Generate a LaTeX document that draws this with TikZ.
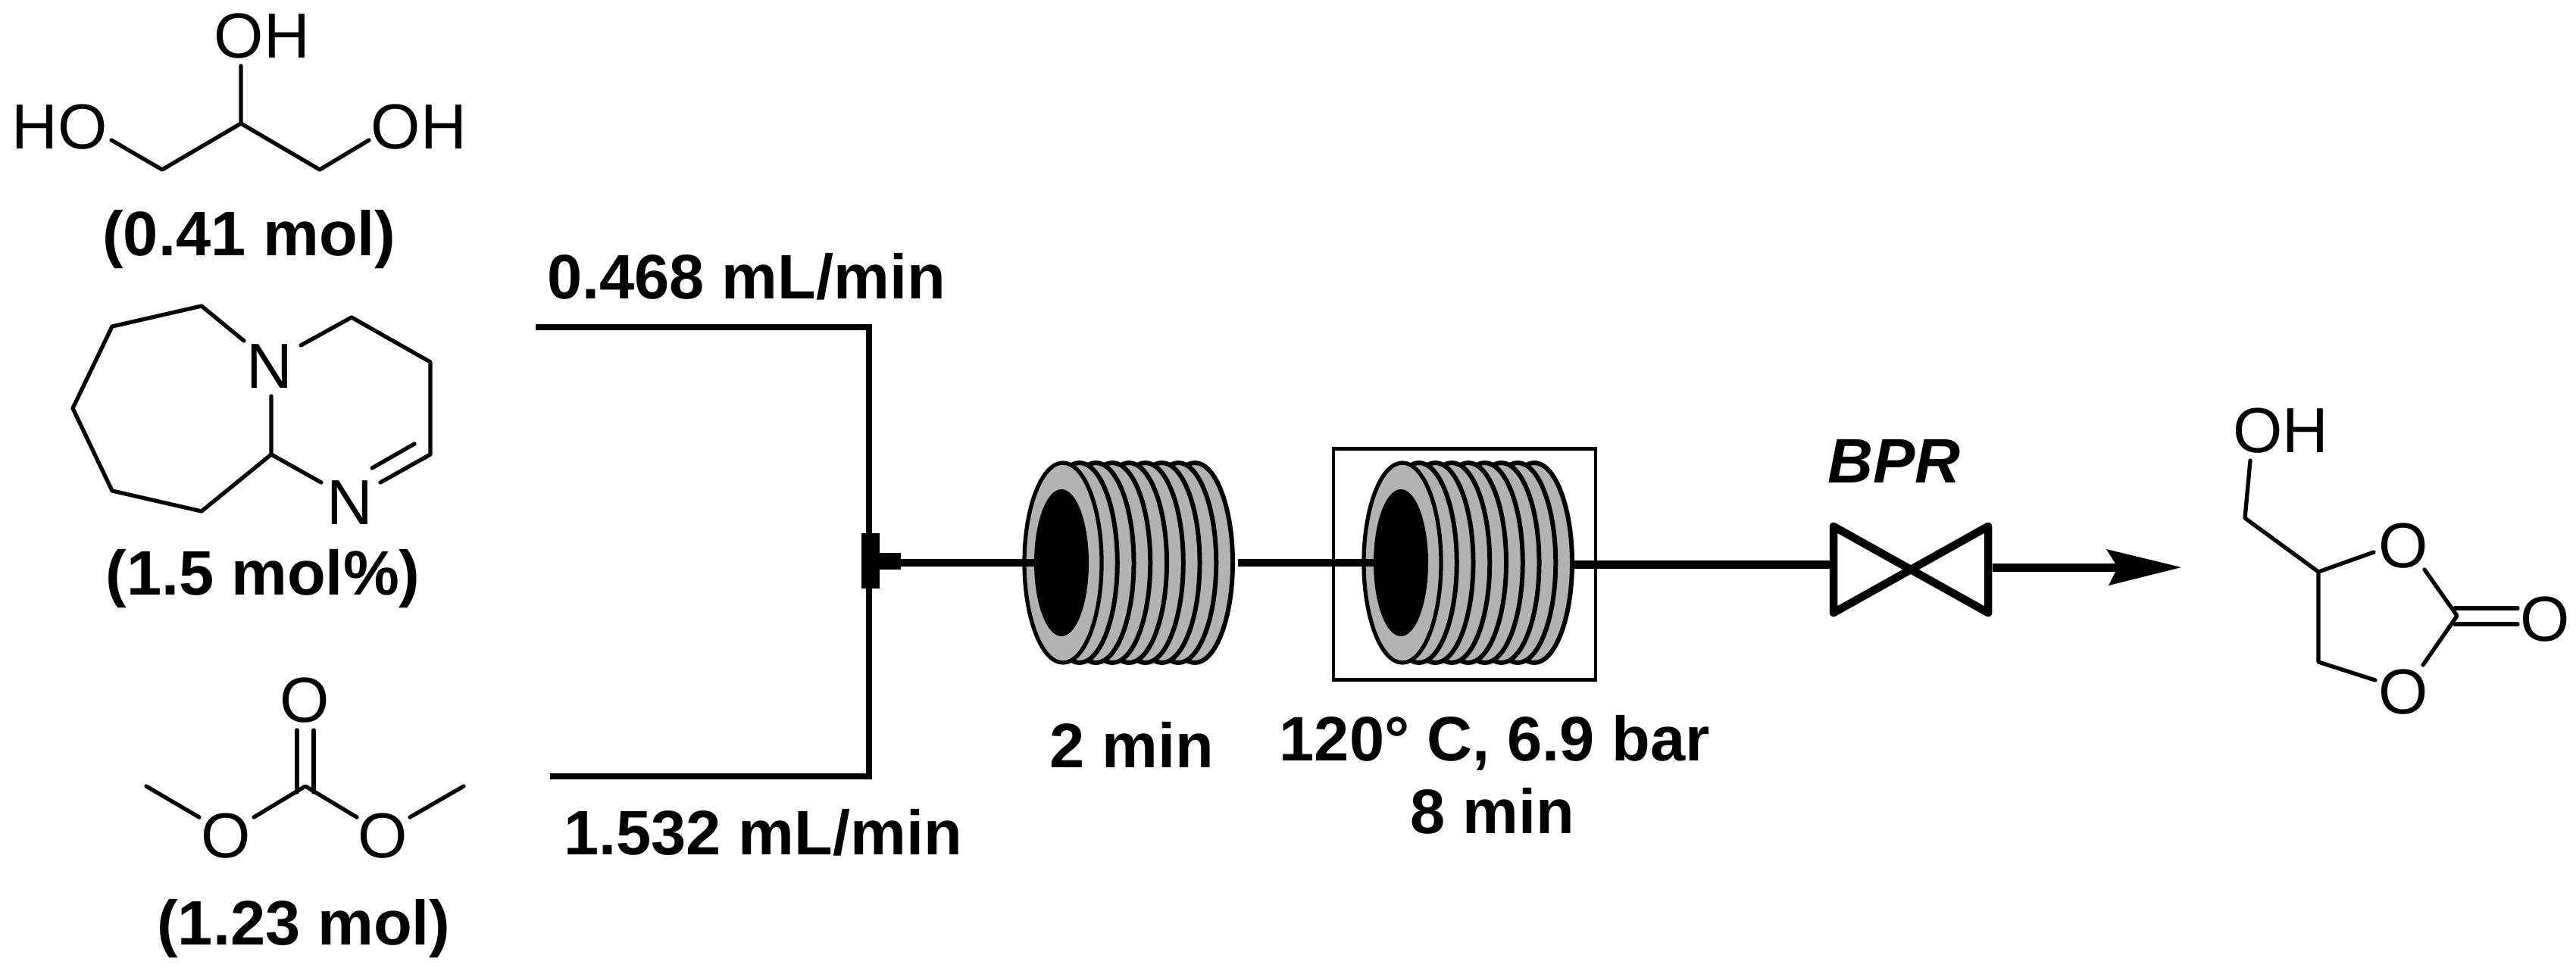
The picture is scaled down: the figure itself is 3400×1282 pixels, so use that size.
\documentclass[tikz,border=0pt]{standalone}
\usepackage{fontspec}
\setmainfont{Liberation Sans}
\definecolor{coilgray}{HTML}{B2B2B2}
\tikzset{
  atom/.style={inner sep=0pt,font=\fontsize{23.9}{26}\selectfont,text height=17.1pt,text depth=0pt},
  lab/.style={inner sep=0pt,font=\fontsize{23.6}{26}\selectfont\bfseries,text height=16.9pt,text depth=0pt},
  bond/.style={line width=1.5pt,line cap=round,line join=round},
  pipe/.style={line width=2.1pt,line cap=butt,line join=miter},
  flow/.style={line width=3.1pt,line cap=butt},
  coil/.pic={
    \foreach \i in {8,7,...,1}{
      \draw[line width=1.7pt,fill=coilgray] ({\i*21.75},0) ellipse [x radius=50,y radius=132];
    }
    \draw[line width=1.5pt,fill=coilgray] (0,0) ellipse [x radius=51,y radius=132];
    \fill[black] (-2,0) ellipse [x radius=36,y radius=97];
  }
}
\begin{document}
\begin{tikzpicture}[x=0.01cm,y=-0.01cm]
\useasboundingbox (0,0) rectangle (3400,1282);
% glycerol
\node[atom] (g1) at (346,46) {OH};
\node[atom] (g2) at (79,166) {HO};
\node[atom] (g3) at (553,166) {OH};
\node[lab] (gl) at (329,308) {(0.41 mol)};
\coordinate (ga) at (318,87);
\coordinate (gb) at (318,163);
\coordinate (gc) at (214,224);
\coordinate (gd) at (147,185);
\coordinate (ge) at (422,224);
\coordinate (gf) at (487,185);
\draw[bond] (ga) -- (gb) (gd) -- (gc) -- (gb) -- (ge) -- (gf);
% DBU
\node[atom] (n1) at (356,482) {N};
\node[atom] (n2) at (462,662) {N};
\node[lab] (dl) at (347,756) {(1.5 mol\%)};
\coordinate (d1) at (322,450);
\coordinate (d2) at (266,404);
\coordinate (d3) at (148,431);
\coordinate (d4) at (96,539);
\coordinate (d5) at (148,648);
\coordinate (d6) at (266,675);
\coordinate (d7) at (358,600);
\coordinate (d8) at (358,523);
\coordinate (d9) at (424,637);
\coordinate (d10) at (397,456);
\coordinate (d11) at (464,419);
\coordinate (d12) at (568,478);
\coordinate (d13) at (568,600);
\coordinate (d14) at (502,637);
\coordinate (d15) at (547,586);
\coordinate (d16) at (491,618);
\draw[bond] (d1) -- (d2) -- (d3) -- (d4) -- (d5) -- (d6) -- (d7) -- (d8);
\draw[bond] (d7) -- (d9);
\draw[bond] (d10) -- (d11) -- (d12) -- (d13) -- (d14);
\draw[bond] (d15) -- (d16);
% DMC
\node[atom] (m1) at (402,923) {O};
\node[atom] (m2) at (298,1102) {O};
\node[atom] (m3) at (505,1102) {O};
\node[lab] (ml) at (401,1218) {(1.23 mol)};
\coordinate (mc) at (403,1038);
\coordinate (mda) at (392,964);
\coordinate (mdb) at (392,1046);
\coordinate (mdc) at (414,964);
\coordinate (mdd) at (414,1046);
\coordinate (me) at (335,1079);
\coordinate (mf) at (263,1079);
\coordinate (mg) at (193,1038);
\coordinate (mh) at (471,1079);
\coordinate (mi) at (541,1079);
\coordinate (mj) at (612,1038);
\draw[bond] (mda) -- (mdb) (mdc) -- (mdd);
\draw[bond] (me) -- (mc) -- (mh);
\draw[bond] (mf) -- (mg) (mi) -- (mj);
% flow lines
\coordinate (ta) at (707,432);
\coordinate (tb) at (1147,432);
\coordinate (ba) at (726,1025);
\coordinate (bb) at (1147,1025);
\draw[pipe] (ta) -- (tb) -- (bb) -- (ba);
\node[lab] (fa) at (985,365) {0.468 mL/min};
\node[lab] (fb) at (1007,1099) {1.532 mL/min};
% T piece
\coordinate (t1) at (1149,704);
\coordinate (t2) at (1149,777);
\coordinate (t3) at (1161,741);
\coordinate (t4) at (1189,741);
\draw[line width=6.8pt] (t1) -- (t2);
\draw[line width=6pt] (t3) -- (t4);
% oven box
\node[draw,line width=1.3pt,minimum width=3.46cm,minimum height=3.05cm,inner sep=0pt] (oven) at (1933,745) {};
% coils
\pic at (1403,743) {coil};
\pic at (1851,743) {coil};
\coordinate (h1) at (1401,743);
\coordinate (h2) at (1849,743);
\coordinate (c1s) at (1189,743);
\coordinate (c1e) at (1634,743);
\draw[flow] (c1s) -- (h1);
\draw[flow] (c1e) -- (h2);
% labels under coils
\node[lab] (c1l) at (1494,984) {2 min};
\node[lab] (c2l) at (1973,975) {120° C, 6.9 bar};
\node[lab] (c3l) at (1970,1071) {8 min};
% BPR
\node[lab,font=\fontsize{23.6}{26}\selectfont\bfseries\itshape] (bl) at (2500,608) {BPR};
\coordinate (c2e) at (2078,745.5);
\coordinate (va) at (2416,745.5);
\coordinate (v1) at (2420,695);
\coordinate (v2) at (2420,809);
\coordinate (v3) at (2624,695);
\coordinate (v4) at (2624,809);
\draw[flow] (c2e) -- (va);
\draw[line width=3pt,line join=round] (v1) -- (v4) -- (v3) -- (v2) -- cycle;
\coordinate (vb) at (2630,749.5);
\coordinate (ar) at (2800,749.5);
\draw[flow] (vb) -- (ar);
\coordinate (at) at (2879,749);
\coordinate (au) at (2780,725);
\coordinate (an) at (2795,749);
\coordinate (ad) at (2783,773);
\fill (at) -- (au) -- (an) -- (ad) -- cycle;
% product
\node[atom] (p1) at (3010,567) {OH};
\node[atom] (p2) at (3172,719) {O};
\node[atom] (p3) at (3172,912) {O};
\node[atom] (p4) at (3359,816) {O};
\coordinate (q1) at (2970,608);
\coordinate (q2) at (2963,684);
\coordinate (q3) at (3060,755);
\coordinate (q4) at (3133,729);
\coordinate (q5) at (3060,874);
\coordinate (q6) at (3135,898);
\coordinate (q7) at (3200,752);
\coordinate (q8) at (3243,813);
\coordinate (q9) at (3198,878);
\coordinate (q10) at (3240,803);
\coordinate (q11) at (3323,803);
\coordinate (q12) at (3240,824);
\coordinate (q13) at (3323,824);
\draw[bond] (q1) -- (q2) -- (q3) -- (q4);
\draw[bond] (q3) -- (q5) -- (q6);
\draw[bond] (q7) -- (q8) -- (q9);
\draw[bond] (q10) -- (q11) (q12) -- (q13);
\end{tikzpicture}
\end{document}
